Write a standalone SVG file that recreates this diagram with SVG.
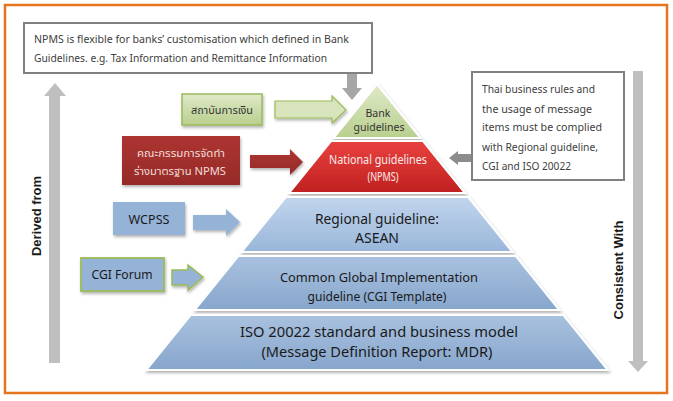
<svg xmlns="http://www.w3.org/2000/svg" width="673" height="401" viewBox="0 0 673 401">
<style>
text{font-family:"Noto Sans","Noto Sans Thai","Leelawadee UI",Tahoma,"DejaVu Sans",sans-serif;}
.note{font-size:11px;fill:#404040;}
.side{font-family:"Liberation Sans",Arial,sans-serif;font-weight:bold;font-size:13px;fill:#1a1a1a;}
.lbl{text-anchor:middle;}
.layer{stroke:#ffffff;stroke-width:2;filter:url(#sh);}
</style>
<defs>
<filter id="sh" x="-10%" y="-10%" width="120%" height="130%">
<feDropShadow dx="1" dy="2" stdDeviation="1.5" flood-color="#000" flood-opacity="0.3"/>
</filter>
<linearGradient id="gGreen" x1="0" y1="0" x2="0" y2="1">
<stop offset="0" stop-color="#dfe9c8"/><stop offset="1" stop-color="#b9cf8e"/>
</linearGradient>
<linearGradient id="gRed" x1="0" y1="0" x2="0" y2="1">
<stop offset="0" stop-color="#e8413f"/><stop offset="1" stop-color="#c0211f"/>
</linearGradient>
<linearGradient id="gDarkRed" x1="0" y1="0" x2="0" y2="1">
<stop offset="0" stop-color="#ad3431"/><stop offset="1" stop-color="#952b29"/>
</linearGradient>
<linearGradient id="gBlue1" x1="0" y1="0" x2="0" y2="1">
<stop offset="0" stop-color="#c2d5ec"/><stop offset="1" stop-color="#98b6da"/>
</linearGradient>
<linearGradient id="gBlue2" x1="0" y1="0" x2="0" y2="1">
<stop offset="0" stop-color="#a9c1df"/><stop offset="1" stop-color="#87a6cc"/>
</linearGradient>
</defs>

<rect x="5" y="5" width="662" height="388" fill="#ffffff" stroke="#e8731e" stroke-width="2.5"/>

<g id="connectors">
<polygon points="49,363 49,96 44,96 55,83 66,96 60,96 60,363" fill="#bfbfbf"/>
<polygon points="633,71 643,71 643,361 648,361 638,372 628,361 633,361" fill="#bfbfbf"/>
<polygon points="347,73 357,73 357,88 362,88 352,100 342,88 347,88" fill="#a6a6a6"/>
<polygon points="472,154 458,154 458,151 449,158 458,165 458,162 472,162" fill="#8c8c8c"/>
<polygon points="275,101 332,101 332,96 346,110 332,123 332,118 275,118" fill="#d7e4bc" stroke="#9bbb59" stroke-width="1.2" filter="url(#sh)"/>
<polygon points="250,155 290,155 290,149 303,162 290,175 290,168 250,168" fill="url(#gDarkRed)" filter="url(#sh)"/>
<polygon points="193,215 226,215 226,209 240,222 226,236 226,230 193,230" fill="#95b3d7" filter="url(#sh)"/>
<polygon points="172,270 188,270 188,265 203,277 188,290 188,285 172,285" fill="#95b3d7" stroke="#9bbb59" stroke-width="1.5" filter="url(#sh)"/>
</g>

<g id="note-bank">
<rect x="24" y="23" width="348" height="50" fill="#ffffff" stroke="#808080" stroke-width="2"/>
<text class="note" x="34" y="43" textLength="315" lengthAdjust="spacingAndGlyphs">NPMS is flexible for banks’ customisation  which defined in Bank</text>
<text class="note" x="34" y="62" textLength="293" lengthAdjust="spacingAndGlyphs">Guidelines. e.g. Tax Information and Remittance Information</text>
</g>

<g id="note-thai">
<rect x="472" y="72" width="152" height="108" fill="#ffffff" stroke="#808080" stroke-width="2"/>
<text class="note" x="482" y="93" textLength="113" lengthAdjust="spacingAndGlyphs">Thai business rules and</text>
<text class="note" x="482" y="113" textLength="110" lengthAdjust="spacingAndGlyphs">the usage of message</text>
<text class="note" x="482" y="131" textLength="120" lengthAdjust="spacingAndGlyphs">items must be complied</text>
<text class="note" x="482" y="151" textLength="116" lengthAdjust="spacingAndGlyphs">with Regional guideline,</text>
<text class="note" x="482" y="170" textLength="89" lengthAdjust="spacingAndGlyphs">CGI and ISO 20022</text>
</g>

<g id="derived-from">
<text class="side lbl" transform="translate(41,216) rotate(-90)">Derived from</text>
</g>
<g id="consistent-with">
<text class="side lbl" transform="translate(623,270) rotate(-90)">Consistent With</text>
</g>

<g id="box-fin">
<rect x="182" y="94" width="80" height="31" fill="url(#gGreen)" stroke="#9bbb59" stroke-width="1.5" filter="url(#sh)"/>
<text class="lbl" x="222" y="114" font-size="11" fill="#333333" textLength="62" lengthAdjust="spacingAndGlyphs">สถาบันการเงิน</text>
</g>

<g id="box-committee">
<rect x="122" y="136" width="118" height="49" fill="url(#gDarkRed)" filter="url(#sh)"/>
<text class="lbl" x="181" y="157" font-size="11" fill="#f2dcdb" textLength="88" lengthAdjust="spacingAndGlyphs">คณะกรรมการจัดทำ</text>
<text class="lbl" x="180" y="175" font-size="11" fill="#f2dcdb" textLength="92" lengthAdjust="spacingAndGlyphs">ร่างมาตรฐาน NPMS</text>
</g>

<g id="box-wcpss">
<rect x="113" y="202" width="72" height="33" fill="#95b3d7" filter="url(#sh)"/>
<text class="lbl" x="149" y="224" font-size="13" fill="#1a1a1a" textLength="41" lengthAdjust="spacingAndGlyphs">WCPSS</text>
</g>

<g id="box-cgi-forum">
<rect x="81" y="258" width="83" height="33" fill="#95b3d7" stroke="#9bbb59" stroke-width="1.8" filter="url(#sh)"/>
<text class="lbl" x="122" y="279" font-size="12.5" fill="#1a1a1a" textLength="61" lengthAdjust="spacingAndGlyphs">CGI Forum</text>
</g>

<g id="layer-bank">
<polygon class="layer" points="377,84 420.6,138 333.4,138" fill="url(#gGreen)"/>
<text class="lbl" x="378" y="117" font-size="11" fill="#333333" textLength="25" lengthAdjust="spacingAndGlyphs">Bank</text>
<text class="lbl" x="379" y="131" font-size="11" fill="#333333" textLength="51" lengthAdjust="spacingAndGlyphs">guidelines</text>
</g>

<g id="layer-national">
<polygon class="layer" points="331,141 423,141 465,193 289,193" fill="url(#gRed)"/>
<text class="lbl" x="378" y="164" font-size="12" fill="#fbeaea" textLength="98" lengthAdjust="spacingAndGlyphs">National  guidelines</text>
<text class="lbl" x="383" y="181" font-size="12" fill="#fbeaea" textLength="31" lengthAdjust="spacingAndGlyphs">(NPMS)</text>
</g>

<g id="layer-regional">
<polygon class="layer" points="285.8,197 468.2,197 512.6,252 241.4,252" fill="url(#gBlue1)"/>
<text class="lbl" x="377" y="224" font-size="14" fill="#1a1a1a" textLength="124" lengthAdjust="spacingAndGlyphs">Regional guideline:</text>
<text class="lbl" x="377" y="243" font-size="14" fill="#1a1a1a" textLength="44" lengthAdjust="spacingAndGlyphs">ASEAN</text>
</g>

<g id="layer-cgi">
<polygon class="layer" points="238.2,256 515.8,256 559.4,310 194.6,310" fill="url(#gBlue2)"/>
<text class="lbl" x="379" y="282" font-size="12.5" fill="#1a1a1a" textLength="198" lengthAdjust="spacingAndGlyphs">Common Global Implementation</text>
<text class="lbl" x="377" y="301" font-size="12.5" fill="#1a1a1a" textLength="139" lengthAdjust="spacingAndGlyphs">guideline (CGI Template)</text>
</g>

<g id="layer-iso">
<polygon class="layer" points="190.6,315 563.4,315 607.8,370 146.2,370" fill="url(#gBlue2)"/>
<text class="lbl" x="379" y="337" font-size="14" fill="#1a1a1a" textLength="278" lengthAdjust="spacingAndGlyphs">ISO 20022  standard  and  business  model</text>
<text class="lbl" x="377" y="357" font-size="14" fill="#1a1a1a" textLength="231" lengthAdjust="spacingAndGlyphs">(Message  Definition  Report:  MDR)</text>
</g>
</svg>
